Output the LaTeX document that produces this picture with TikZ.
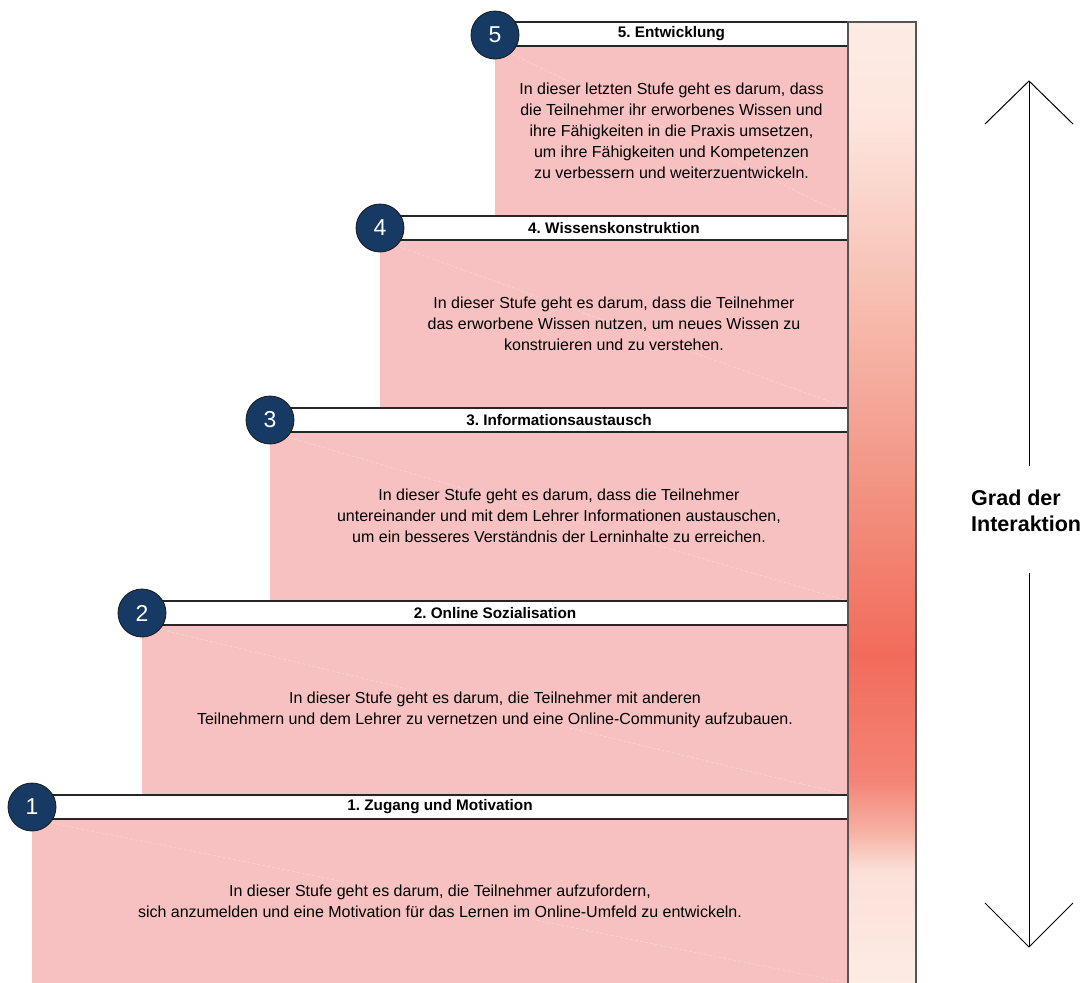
\documentclass[tikz,border=0pt]{standalone}
\usepackage{fontspec}
\setmainfont{Liberation Sans}
\frenchspacing
\definecolor{pinkfill}{HTML}{F7C1C1}
\definecolor{navy}{HTML}{163A63}
\definecolor{barline}{HTML}{555555}
\definecolor{gA}{HTML}{FDECE4}
\definecolor{gB}{HTML}{FBE0D8}
\definecolor{gC}{HTML}{F6B0A2}
\definecolor{gD}{HTML}{F38476}
\definecolor{gE}{HTML}{F26B5A}
\definecolor{gF}{HTML}{F2907F}
\definecolor{gG}{HTML}{F6B7A9}
\definecolor{gH}{HTML}{FDE6DE}
\pgfdeclareverticalshading{bargrad}{100bp}{color(0bp)=(gA); color(25bp)=(gA); color(30.9bp)=(gB); color(33bp)=(gC); color(35.6bp)=(gD); color(42.2bp)=(gE); color(50.1bp)=(gF); color(59bp)=(gG); color(70.1bp)=(gH); color(75bp)=(gA); color(100bp)=(gA)}
\tikzset{
  pinkbox/.style={fill=pinkfill, draw=none},
  diag/.style={white, opacity=0.35, line width=0.5pt, dash pattern=on 3pt off 2pt},
  headbox/.style={draw=black!85, fill=white, line width=1.1pt},
  headtext/.style={font=\fontsize{15.3}{18}\selectfont\bfseries, inner sep=0pt, anchor=center},
  bodytext/.style={font=\fontsize{16}{21}\selectfont, align=center, inner sep=0pt, anchor=center},
  numcircle/.style={circle, fill=navy, draw=black!90, line width=0.8pt, minimum size=48pt, inner sep=0pt, text=white, font=\fontsize{23}{26}\selectfont},
  arrowline/.style={line width=1pt, black},
}
\begin{document}
\begin{tikzpicture}[x=1pt,y=-1pt]
\useasboundingbox (0,0) rectangle (1088,983);
% pink boxes
\path[pinkbox] (495,46) rectangle (848,216);
\path[pinkbox] (380,240) rectangle (848,408);
\path[pinkbox] (270,432) rectangle (848,601);
\path[pinkbox] (142,625) rectangle (848,795);
\path[pinkbox] (32,819) rectangle (848,983);
% faint diagonals
\draw[diag] (495,46) -- (848,216);
\draw[diag] (380,240) -- (848,408);
\draw[diag] (270,432) -- (848,601);
\draw[diag] (142,625) -- (848,795);
\draw[diag] (32,819) -- (848,983);
% headers
\draw[headbox] (495,22) rectangle (848,46);
\draw[headbox] (380,216) rectangle (848,240);
\draw[headbox] (270,408) rectangle (848,432);
\draw[headbox] (142,601) rectangle (848,625);
\draw[headbox] (32,795) rectangle (848,819);
\node[headtext] (h5) at (671.5,34) {5. Entwicklung};
\node[headtext] (h4) at (614,228) {4. Wissenskonstruktion};
\node[headtext] (h3) at (559,420) {3. Informationsaustausch};
\node[headtext] (h2) at (495,613) {2. Online Sozialisation};
\node[headtext] (h1) at (440,807) {1. Zugang und Motivation};
% body texts
\node[bodytext] (b5) at (671.5,131) {In dieser letzten Stufe geht es darum, dass\\die Teilnehmer ihr erworbenes Wissen und\\ihre Fähigkeiten in die Praxis umsetzen,\\um ihre Fähigkeiten und Kompetenzen\\zu verbessern und weiterzuentwickeln.};
\node[bodytext] (b4) at (614,324) {In dieser Stufe geht es darum, dass die Teilnehmer\\das erworbene Wissen nutzen, um neues Wissen zu\\konstruieren und zu verstehen.};
\node[bodytext] (b3) at (559,516) {In dieser Stufe geht es darum, dass die Teilnehmer\\untereinander und mit dem Lehrer Informationen austauschen,\\um ein besseres Verständnis der Lerninhalte zu erreichen.};
\node[bodytext] (b2) at (495,710) {In dieser Stufe geht es darum, die Teilnehmer mit anderen\\Teilnehmern und dem Lehrer zu vernetzen und eine Online-Community aufzubauen.};
\node[bodytext] (b1) at (440,901) {In dieser Stufe geht es darum, die Teilnehmer aufzufordern,\\sich anzumelden und eine Motivation für das Lernen im Online-Umfeld zu entwickeln.};
% circles
\node[numcircle] (c5) at (495,35) {5};
\node[numcircle] (c4) at (380,228) {4};
\node[numcircle] (c3) at (270,420) {3};
\node[numcircle] (c2) at (142,613) {2};
\node[numcircle] (c1) at (32,807) {1};
% gradient bar
\draw[barline, line width=1.4pt, shading=bargrad] (848,22) rectangle (916,984);
% arrow
\node[font=\fontsize{21.5}{26}\selectfont\bfseries, align=left, anchor=west, inner sep=0pt] (lab) at (971,511) {Grad der\\Interaktion};
\coordinate (top) at (1029,81);
\coordinate (bot) at (1029,947);
\coordinate (gapT) at (1029,466);
\coordinate (gapB) at (1029,573);
\draw[arrowline] (top) -- (gapT);
\draw[arrowline] (gapB) -- (bot);
\draw[arrowline, line join=miter] (985,124) -- (top) -- (1073,124);
\draw[arrowline, line join=miter] (985,903) -- (bot) -- (1073,903);
\end{tikzpicture}
\end{document}
